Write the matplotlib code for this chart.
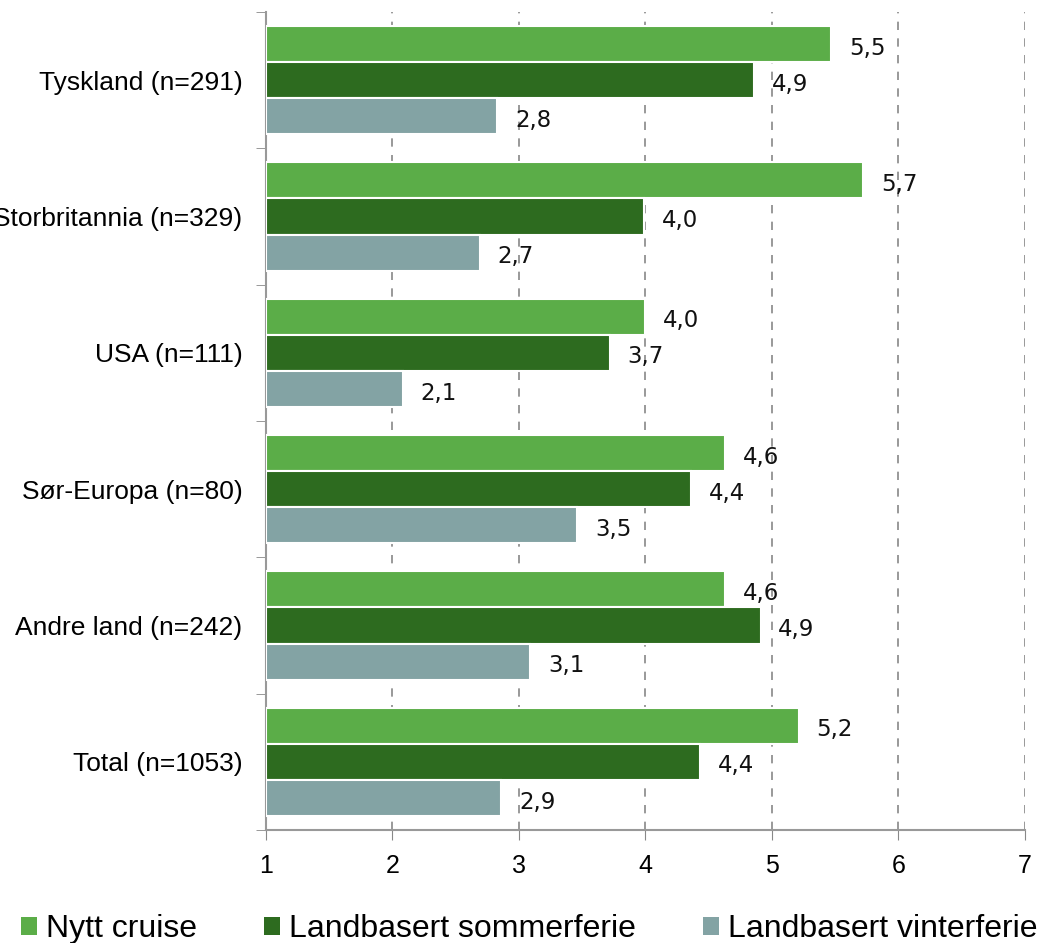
import matplotlib
matplotlib.use('Agg')

import matplotlib.pyplot as plt
from matplotlib.patches import Patch
import numpy as np

plt.rcParams['font.family'] = ['Liberation Sans', 'DejaVu Sans']

# Data
CATEGORIES = ["Tyskland (n=291)", "Storbritannia (n=329)", "USA (n=111)",
              "Sør-Europa (n=80)", "Andre land (n=242)", "Total (n=1053)"]
SERIES = ["Nytt cruise", "Landbasert sommerferie", "Landbasert vinterferie"]
NYTT_CRUISE = [5.47, 5.72, 4.0, 4.63, 4.63, 5.21]
SOMMERFERIE = [4.86, 3.99, 3.72, 4.36, 4.91, 4.43]
VINTERFERIE = [2.83, 2.69, 2.08, 3.46, 3.09, 2.86]
COLORS = ["#5BAD48", "#2D6B1F", "#83A3A4"]

BASE = 1

fig = plt.figure(figsize=(10.37, 9.43), dpi=100)
ax = fig.add_axes([0.2565, 0.1198, 0.7319, 0.8675])

y = np.arange(len(CATEGORIES))
h = 0.265
offsets = [-h, 0, h]

for vals, off, col in zip([NYTT_CRUISE, SOMMERFERIE, VINTERFERIE], offsets, COLORS):
    widths = [v - BASE for v in vals]
    bars = ax.barh(y + off, widths, left=BASE, height=h, color=col,
                   edgecolor="white", linewidth=1.5, zorder=3)
    for rect, v in zip(bars, vals):
        ax.text(v + 0.14, rect.get_y() + rect.get_height() / 2 + 0.03,
                ("%.1f" % v).replace(".", ","), ha="left", va="center",
                fontsize=16.5, family=["DejaVu Sans"], color="#111111", zorder=4)

ax.set_xlim(1, 7)
ax.set_ylim(len(CATEGORIES) - 0.5, -0.5)
ax.set_xticks(range(1, 8))
ax.tick_params(axis="x", direction="out", length=7, color="#888888",
               labelsize=18, pad=10)
ax.set_yticks(y)
ax.set_yticklabels(CATEGORIES)
ax.tick_params(axis="y", which="major", length=0, labelsize=19, pad=17)
ax.set_yticks(np.arange(-0.5, len(CATEGORIES)), minor=True)
ax.tick_params(axis="y", which="minor", direction="out", length=7, color="#888888")

ax.grid(axis="x", linestyle=(0, (5, 5)), color="#888888", linewidth=1.2, zorder=0)
ax.grid(axis="y", visible=False)
for s in ["top", "right"]:
    ax.spines[s].set_visible(False)
for s in ["left", "bottom"]:
    ax.spines[s].set_color("#999999")
    ax.spines[s].set_linewidth(1.5)

handles = [Patch(facecolor=c, edgecolor="none") for c in COLORS]
fig.legend(handles, SERIES, loc="lower left", bbox_to_anchor=(-0.001, -0.025),
           ncol=3, frameon=False, fontsize=23, handlelength=0.5, handleheight=0.5,
           handletextpad=0.28, columnspacing=2.1, borderpad=0.2)

plt.savefig("out.png", dpi=100)
